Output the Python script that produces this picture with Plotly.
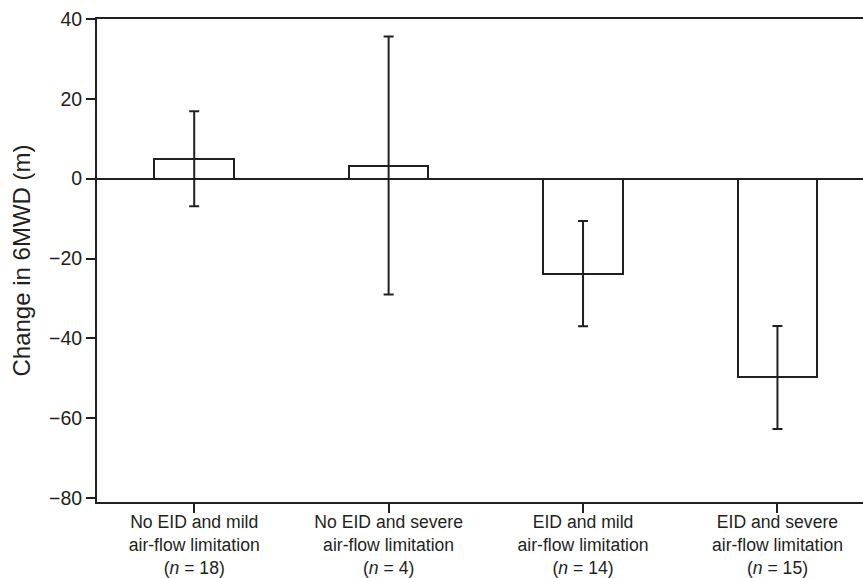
import plotly.graph_objects as go

categories = [
    "No EID and mild<br>air-flow limitation<br>(<i>n</i> = 18)",
    "No EID and severe<br>air-flow limitation<br>(<i>n</i> = 4)",
    "EID and mild<br>air-flow limitation<br>(<i>n</i> = 14)",
    "EID and severe<br>air-flow limitation<br>(<i>n</i> = 15)",
]
means = [5.0, 3.3, -23.8, -49.8]
errors = [11.9, 32.3, 13.2, 12.9]
y_ticks = [-80, -60, -40, -20, 0, 20, 40]

ink = "#231f20"
font_family = "Liberation Sans, Arial, sans-serif"

fig = go.Figure()
fig.add_trace(go.Bar(
    x=list(range(len(categories))),
    y=means,
    width=0.41,
    marker=dict(color="white", line=dict(color=ink, width=2)),
    error_y=dict(type="data", array=errors, visible=True, color=ink, thickness=2, width=5),
    showlegend=False,
))

fig.update_layout(
    width=863, height=578,
    margin=dict(l=97, r=0, t=19, b=76),
    plot_bgcolor="white", paper_bgcolor="white",
    font=dict(family=font_family, color=ink, size=18),
    bargap=0,
)
fig.update_xaxes(
    range=[-0.5, 3.44], automargin=False,
    tickmode="array", tickvals=list(range(len(categories))), ticktext=categories,
    showline=True, linecolor=ink, linewidth=2, mirror=True,
    ticks="outside", ticklen=9, tickwidth=2, tickcolor=ink,
    showgrid=False, zeroline=False,
    tickfont=dict(size=17.6), ticklabelstandoff=-6,
)
fig.update_yaxes(
    range=[-81, 40], automargin=False,
    tickmode="array", tickvals=y_ticks,
    showline=True, linecolor=ink, linewidth=2,
    ticks="outside", ticklen=9, tickwidth=2, tickcolor=ink,
    showgrid=False, zeroline=True, zerolinecolor=ink, zerolinewidth=2,
    tickfont=dict(size=19.5),
    title=dict(text="Change in 6MWD (m)", font=dict(size=24), standoff=12),
)

fig.write_html(
    "out.html",
    config={"displayModeBar": False},
    post_script="document.body.style.margin='0';document.body.style.overflow='hidden';",
)
